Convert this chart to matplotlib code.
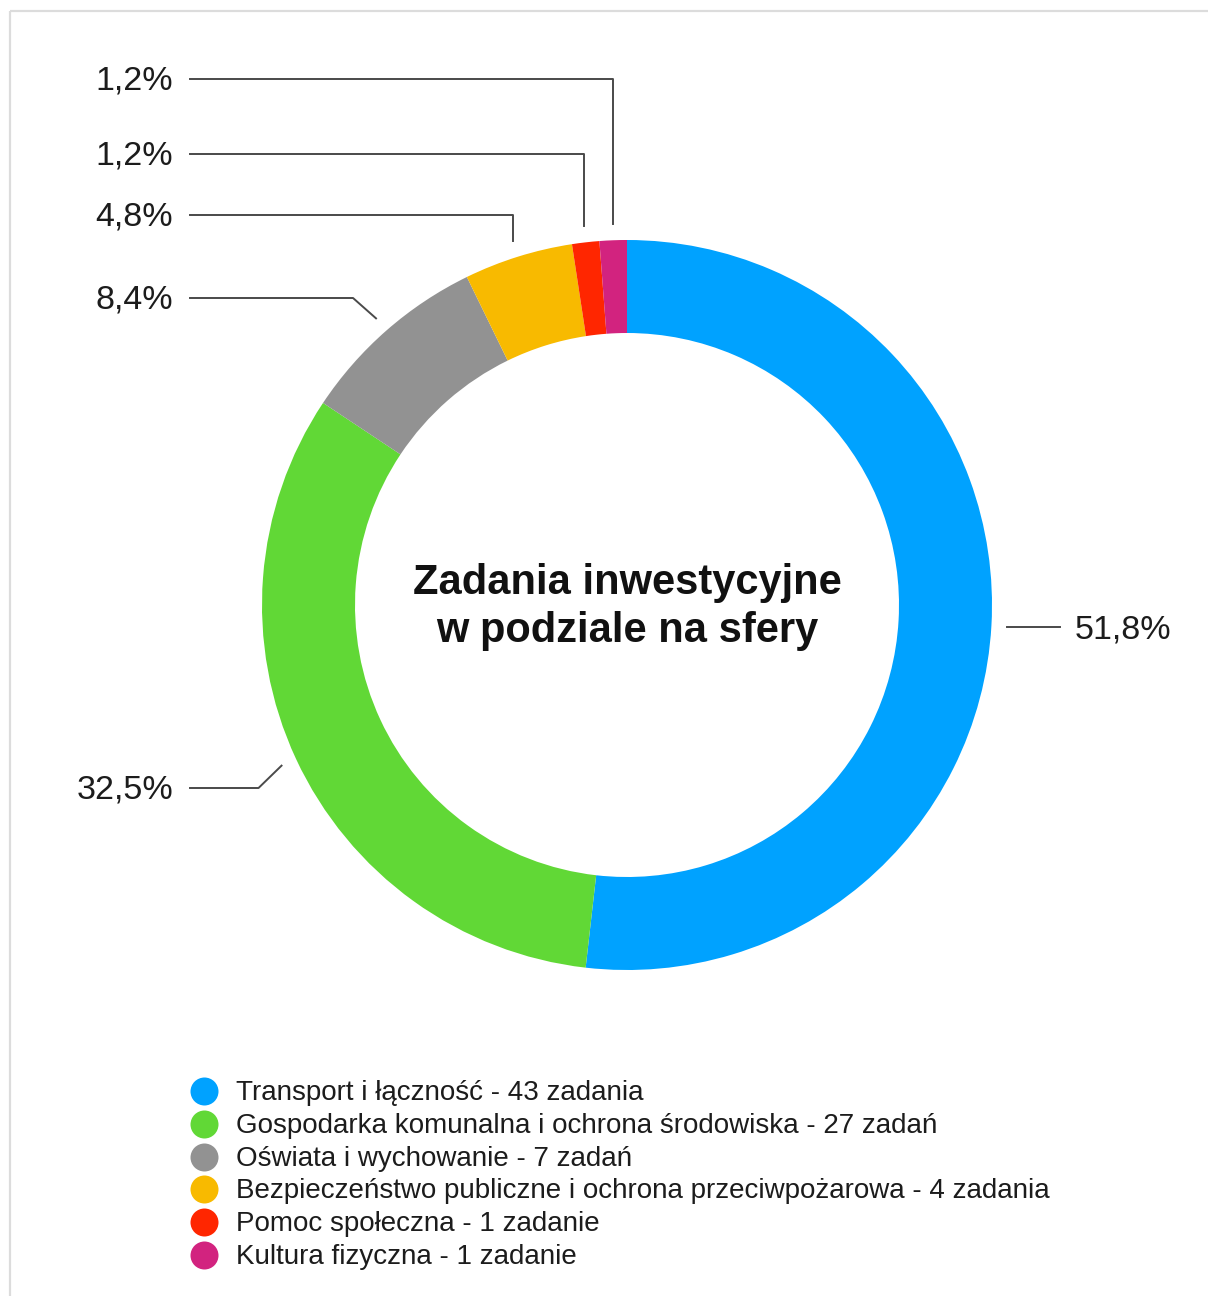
import numpy as np
import matplotlib
matplotlib.use("Agg")
import matplotlib.pyplot as plt

# ---- data ----
categories = [
    "Transport i łączność - 43 zadania",
    "Gospodarka komunalna i ochrona środowiska - 27 zadań",
    "Oświata i wychowanie - 7 zadań",
    "Bezpieczeństwo publiczne i ochrona przeciwpożarowa - 4 zadania",
    "Pomoc społeczna - 1 zadanie",
    "Kultura fizyczna - 1 zadanie",
]
counts = [43, 27, 7, 4, 1, 1]
colors = ["#00A2FF", "#61D836", "#929292", "#F8BA00", "#FF2600", "#D2237F"]
title = "Zadania inwestycyjne\nw podziale na sfery"

# ---- layout (pixel coords, y down) ----
W, H = 1208, 1296
cx, cy = 627, 605
R, ring = 365, 93
plt.rcParams['font.family'] = ['Liberation Sans', 'DejaVu Sans']
txt_col = "#1c1c1c"
line_col = "#4a4a4a"

fig = plt.figure(figsize=(W / 100, H / 100), dpi=100)
fig.patch.set_facecolor("white")
ax = fig.add_axes([0, 0, 1, 1])

wedges, _ = ax.pie(counts, colors=colors, startangle=-90, counterclock=True,
                   radius=R, center=(cx, cy),
                   wedgeprops=dict(width=ring, linewidth=0))
ax.set_xlim(0, W)
ax.set_ylim(H, 0)
ax.set_aspect('auto')
ax.axis('off')

# frame lines (light gray, cropped on right/bottom)
ax.plot([10, 10], [11, H], color="#dcdcdc", lw=1.6, solid_capstyle='butt')
ax.plot([10, W], [11, 11], color="#dcdcdc", lw=1.6, solid_capstyle='butt')

# title
ax.text(cx, cy + 2, title, ha='center', va='center', fontsize=30,
        fontweight='bold', color="#111111", linespacing=1.25)

# percentage labels with leader lines
total = sum(counts)
pct = [f"{100 * c / total:.1f}".replace('.', ',') + "%" for c in counts]
label_y = [None, 788, 298, 215, 154, 79]   # layout: label rows
style = ["right", "elbow", "elbow", "vert", "vert", "vert"]
r_end = R + 16
for i, w in enumerate(wedges):
    th = np.deg2rad((w.theta1 + w.theta2) / 2)
    ex, ey = cx + r_end * np.cos(th), cy + r_end * np.sin(th)
    if style[i] == "right":
        ax.plot([ex, 1060], [ey, ey], color=line_col, lw=1.4)
        ax.text(1075, ey + 3, pct[i], ha='left', va='center', fontsize=24.5, color=txt_col)
        continue
    ly = label_y[i]
    if style[i] == "vert":
        ax.plot([190, ex, ex], [ly, ly, ey], color=line_col, lw=1.4)
    else:
        ax.plot([190, ex - 23, ex], [ly, ly, ey], color=line_col, lw=1.4)
    ax.text(173, ly + 2, pct[i], ha='right', va='center', fontsize=24.5, color=txt_col)

# legend
leg_y0, leg_dy = 1091, 32.8
for i, (cat, col) in enumerate(zip(categories, colors)):
    y = leg_y0 + i * leg_dy
    ax.scatter([204], [y], s=(28 * 0.72) ** 2, color=col, linewidths=0, zorder=3)
    ax.text(236, y + 2, cat, ha='left', va='center', fontsize=20, color=txt_col)

fig.savefig("out.png", dpi=100, facecolor="white")
